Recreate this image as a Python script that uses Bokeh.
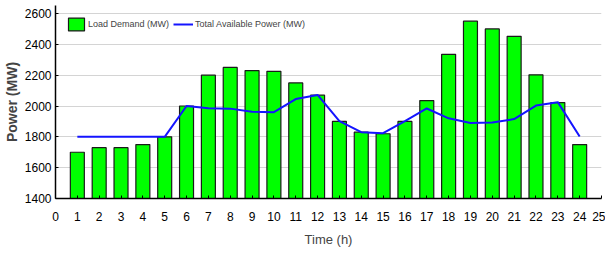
from bokeh.plotting import figure
from bokeh.models import ColumnDataSource, Range1d, FixedTicker, Legend, LegendItem
from bokeh.embed import file_html
from bokeh.resources import INLINE

hours = list(range(1, 25))
load_demand = [1700, 1730, 1730, 1750, 1800, 2000, 2200, 2250, 2230, 2225, 2150, 2070,
               1900, 1830, 1820, 1900, 2035, 2335, 2550, 2500, 2452, 2202, 2022, 1750]
available = [1800, 1800, 1800, 1800, 1800, 2000, 1985, 1983, 1963, 1960, 2045, 2072,
             1902, 1830, 1824, 1902, 1984, 1920, 1890, 1893, 1915, 2003, 2025, 1802]
x_ticks = list(range(0, 26))
y_ticks = [1400, 1600, 1800, 2000, 2200, 2400, 2600]

FONT = "Liberation Sans"

src = ColumnDataSource(dict(h=hours, load=load_demand, avail=available))

p = figure(frame_width=546, frame_height=193, output_backend="svg", toolbar_location=None,
           x_range=Range1d(0, 25), y_range=Range1d(1400, 2652),
           min_border_left=49, min_border_right=4, min_border_top=5, min_border_bottom=50)
p.outline_line_color = None
p.background_fill_color = "white"

bars = p.vbar(x="h", top="load", bottom=1400, width=0.64, source=src,
              fill_color="#00ff00", line_color="#1a1a1a", line_width=1.2)
ln = p.line(x="h", y="avail", source=src, line_color="#1414ff", line_width=2)

p.xaxis.ticker = FixedTicker(ticks=x_ticks)
p.yaxis.ticker = FixedTicker(ticks=y_ticks)
p.xgrid.grid_line_color = None
p.ygrid.grid_line_color = "#d4d4d4"
p.ygrid.grid_line_width = 1

for ax in (p.xaxis[0], p.yaxis[0]):
    ax.axis_line_color = "black"
    ax.axis_line_width = 1.5
    ax.major_label_text_font = FONT
    ax.major_label_text_font_size = "12px"
    ax.major_label_text_color = "black"
    ax.axis_label_text_font = FONT
    ax.axis_label_text_font_style = "normal"
    ax.minor_tick_line_color = None
    ax.major_tick_out = 0
    ax.major_tick_in = 3
    ax.major_tick_line_color = "black"

p.xaxis.axis_label = "Time (h)"
p.xaxis.axis_label_text_font_size = "13px"
p.xaxis.axis_label_standoff = 8
p.xaxis.major_label_standoff = 13
p.yaxis.axis_label = "Power (MW)"
p.yaxis.axis_label_text_font_style = "bold"
p.yaxis.axis_label_text_font_size = "14px"
p.yaxis.axis_label_standoff = 2
p.yaxis.major_label_standoff = 4

legend = Legend(items=[LegendItem(label="Load Demand (MW)", renderers=[bars]),
                       LegendItem(label="Total Available Power (MW)", renderers=[ln])],
                orientation="horizontal", location="top_left",
                background_fill_alpha=0, border_line_color=None,
                label_text_font=FONT, label_text_font_size="9px",
                glyph_width=20, glyph_height=16, spacing=4, label_standoff=2,
                margin=11, padding=3)
p.add_layout(legend)

open("out.html", "w").write(file_html(p, INLINE))
